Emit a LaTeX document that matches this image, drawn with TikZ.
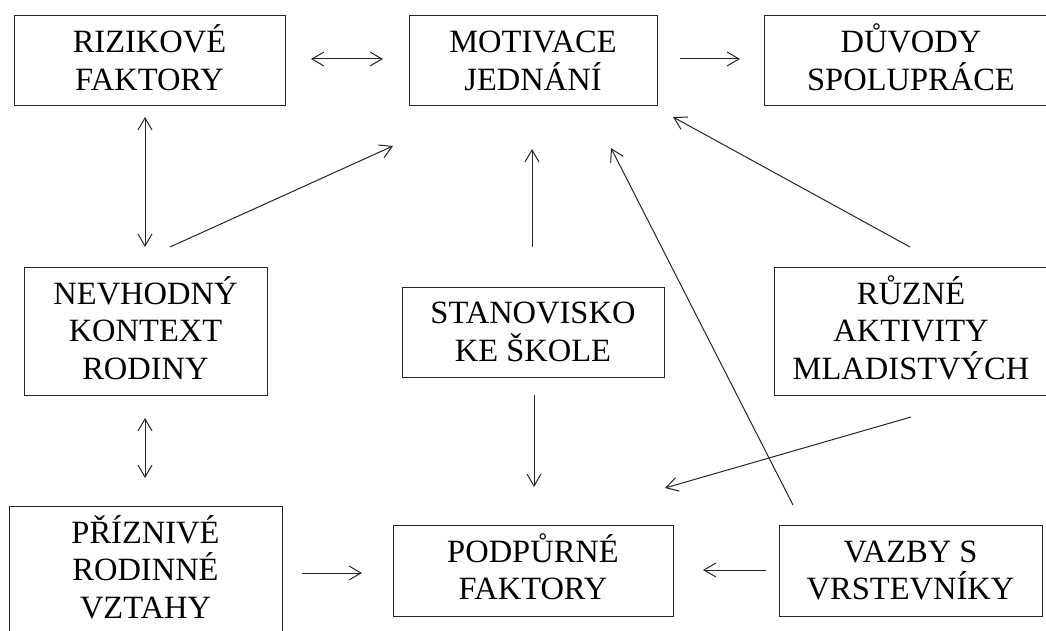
\documentclass[tikz,border=0pt]{standalone}
\usepackage{fontspec}
\setmainfont{Liberation Serif}
\usetikzlibrary{arrows.meta}
\newcommand{\capstrut}{\rule{0pt}{\fontcharht\font`H}}
\begin{document}
\begin{tikzpicture}[x=1pt,y=-1pt,
  box/.style={draw=black!85, line width=1pt, rectangle, inner sep=0pt, align=center,
    minimum height=90pt, font=\fontsize{32.5}{37.5}\selectfont},
  arr/.style={draw=black!85, line width=1pt, -{Straight Barb[length=12pt,width=14pt]}},
  darr/.style={draw=black!85, line width=1pt, {Straight Barb[length=12pt,width=14pt]}-{Straight Barb[length=12pt,width=14pt]}}]
\useasboundingbox (0,0) rectangle (1046,631);
\clip (0,0) rectangle (1046,631);
\fill[white] (0,0) rectangle (1046,631);

\node[box, minimum width=271pt] (riz) at (149.5,61) {\capstrut\smash{RIZIKOVÉ}\\\smash{FAKTORY}};
\node[box, minimum width=248pt] (mot) at (533,61) {\capstrut\smash{MOTIVACE}\\\smash{JEDNÁNÍ}};
\node[box, minimum width=294pt] (duv) at (911,61) {\capstrut\smash{DŮVODY}\\\smash{SPOLUPRÁCE}};
\node[box, minimum width=243pt, minimum height=128pt] (nev) at (145.5,331) {\capstrut\smash{NEVHODNÝ}\\\smash{KONTEXT}\\\smash{RODINY}};
\node[box, minimum width=262pt] (sta) at (533,332) {\capstrut\smash{STANOVISKO}\\\smash{KE ŠKOLE}};
\node[box, minimum width=274pt, minimum height=128pt] (ruz) at (911,331) {\capstrut\smash{RŮZNÉ}\\\smash{AKTIVITY}\\\smash{MLADISTVÝCH}};
\node[box, minimum width=273pt, minimum height=128pt] (pri) at (145.5,570) {\capstrut\smash{PŘÍZNIVÉ}\\\smash{RODINNÉ}\\\smash{VZTAHY}};
\node[box, minimum width=280pt, minimum height=91pt] (pod) at (533,570.5) {\capstrut\smash{PODPŮRNÉ}\\\smash{FAKTORY}};
\node[box, minimum width=263pt, minimum height=91pt] (vaz) at (910.5,570.5) {\capstrut\smash{VAZBY S}\\\smash{VRSTEVNÍKY}};

% connector end points
\coordinate (a1) at (311,59);  \coordinate (a2) at (383,59);
\coordinate (b1) at (680,59);  \coordinate (b2) at (740,59);
\coordinate (c1) at (145,117); \coordinate (c2) at (145,247);
\coordinate (d1) at (170,247); \coordinate (d2) at (393,146);
\coordinate (e1) at (532,247); \coordinate (e2) at (532,149);
\coordinate (f1) at (793,505); \coordinate (f2) at (611,148);
\coordinate (g1) at (910,247); \coordinate (g2) at (673,117);
\coordinate (h1) at (145,418); \coordinate (h2) at (145,478);
\coordinate (i1) at (302,573); \coordinate (i2) at (362,573);
\coordinate (j1) at (534,395); \coordinate (j2) at (534,487);
\coordinate (k1) at (911,417); \coordinate (k2) at (665,488);
\coordinate (l1) at (766,570); \coordinate (l2) at (703,570);

\draw[darr] (a1) -- (a2);
\draw[arr] (b1) -- (b2);
\draw[darr] (c1) -- (c2);
\draw[arr] (d1) -- (d2);
\draw[arr] (e1) -- (e2);
\draw[arr] (f1) -- (f2);
\draw[arr] (g1) -- (g2);
\draw[darr] (h1) -- (h2);
\draw[arr] (i1) -- (i2);
\draw[arr] (j1) -- (j2);
\draw[arr] (k1) -- (k2);
\draw[arr] (l1) -- (l2);
\end{tikzpicture}
\end{document}
